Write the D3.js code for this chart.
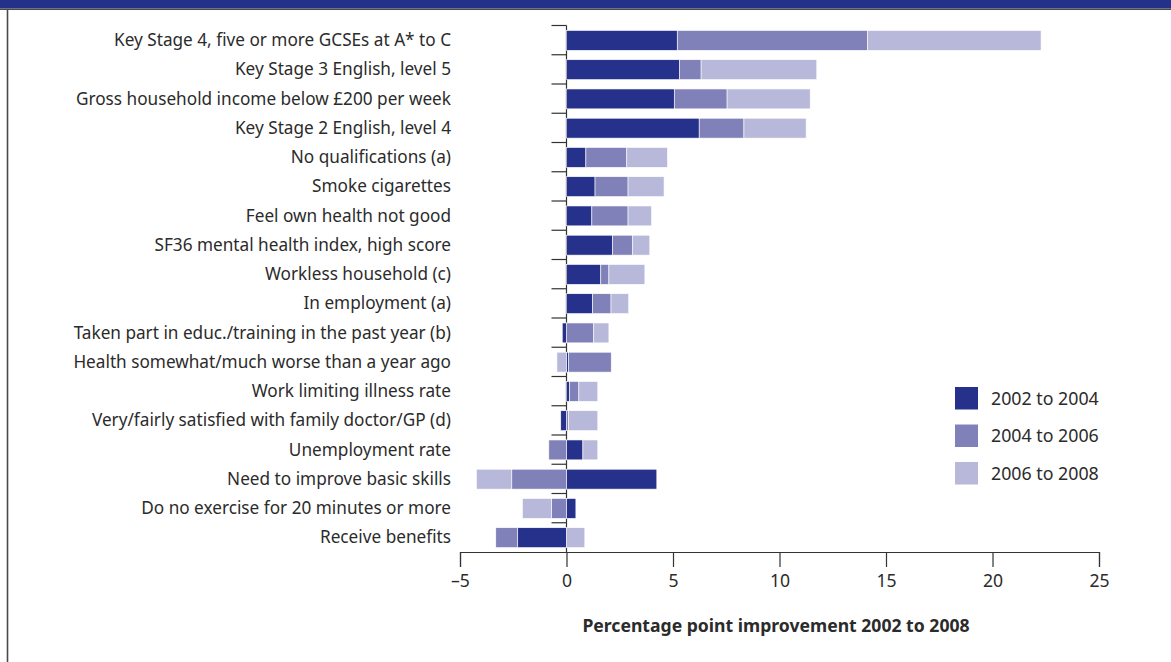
<!DOCTYPE html>
<html>
<head>
<meta charset="utf-8">
<script src="https://cdn.jsdelivr.net/npm/d3@7"></script>
<style>
  body { margin: 0; background: #fff; }
  svg { display: block; font-family: "Noto Sans", sans-serif; }
</style>
</head>
<body>
<div id="chart"></div>
<script>
var categories = [
  "Key Stage 4, five or more GCSEs at A* to C",
  "Key Stage 3 English, level 5",
  "Gross household income below £200 per week",
  "Key Stage 2 English, level 4",
  "No qualifications (a)",
  "Smoke cigarettes",
  "Feel own health not good",
  "SF36 mental health index, high score",
  "Workless household (c)",
  "In employment (a)",
  "Taken part in educ./training in the past year (b)",
  "Health somewhat/much worse than a year ago",
  "Work limiting illness rate",
  "Very/fairly satisfied with family doctor/GP (d)",
  "Unemployment rate",
  "Need to improve basic skills",
  "Do no exercise for 20 minutes or more",
  "Receive benefits"
];
var seriesNames = ["2002 to 2004", "2004 to 2006", "2006 to 2008"];
var v2002_04 = [5.2, 5.3, 5.06, 6.23, 0.91, 1.34, 1.19, 2.17, 1.61, 1.23, -0.2, 0.1, 0.15, -0.27, 0.77, 4.24, 0.44, -2.29];
var v2004_06 = [8.94, 1.02, 2.48, 2.1, 1.92, 1.55, 1.7, 0.94, 0.38, 0.86, 1.28, 2.0, 0.43, 0.09, -0.83, -2.57, -0.7, -1.03];
var v2006_08 = [8.14, 5.43, 3.9, 2.92, 1.91, 1.69, 1.1, 0.8, 1.69, 0.83, 0.71, -0.45, 0.89, 1.38, 0.7, -1.66, -1.37, 0.86];
var xTicks = [-5, 0, 5, 10, 15, 20, 25];
var colors = ["#25318a", "#8181b9", "#b8b8da"];

var width = 1171, height = 662;
var svg = d3.select("#chart").append("svg")
  .attr("width", width)
  .attr("height", height);

// header band and frame
svg.append("rect").attr("x", 0).attr("y", 0).attr("width", width).attr("height", 8.5).attr("fill", "#23318a");
svg.append("line").attr("x1", 0).attr("x2", width).attr("y1", 9.2).attr("y2", 9.2)
  .attr("stroke", "#4a4a4a").attr("stroke-width", 1.6);
svg.append("line").attr("x1", 7.5).attr("x2", 7.5).attr("y1", 9).attr("y2", height)
  .attr("stroke", "#4a4a4a").attr("stroke-width", 1.6);

var table = categories.map(function(c, i) {
  return {cat: c, s0: v2002_04[i], s1: v2004_06[i], s2: v2006_08[i]};
});

var stack = d3.stack()
  .keys(["s0", "s1", "s2"])
  .offset(d3.stackOffsetDiverging);
var layers = stack(table);

var x = d3.scaleLinear().domain([-5, 25]).range([460, 1099]);
var row = d3.scaleBand().domain(categories).range([25.5, 552]).padding(0);
var barInset = row.bandwidth() * 0.17;
var barH = row.bandwidth() * 0.68;

// zero / category axis
var zx = x(0);
svg.append("line").attr("x1", zx).attr("x2", zx).attr("y1", row.range()[0]).attr("y2", row.range()[1])
  .attr("stroke", "#333").attr("stroke-width", 1.2);
svg.selectAll(".ytick").data(categories).enter().append("line")
  .attr("class", "ytick")
  .attr("x1", zx - 15).attr("x2", zx)
  .attr("y1", function(d) { return row(d); })
  .attr("y2", function(d) { return row(d); })
  .attr("stroke", "#333").attr("stroke-width", 1.2);

svg.selectAll(".ylab").data(categories).enter().append("text")
  .attr("class", "ylab")
  .attr("x", 451)
  .attr("y", function(d) { return row(d) + row.bandwidth() / 2; })
  .attr("dy", "0.35em")
  .attr("text-anchor", "end")
  .attr("font-size", 17.2)
  .attr("fill", "#2b2b2b")
  .text(function(d) { return d; });

// bars
svg.selectAll(".layer").data(layers).enter().append("g")
  .attr("class", "layer")
  .attr("fill", function(d, i) { return colors[i]; })
  .selectAll("rect")
  .data(function(d) { return d; })
  .enter().append("rect")
  .attr("x", function(d) { return x(Math.min(d[0], d[1])); })
  .attr("width", function(d) { return Math.abs(x(d[1]) - x(d[0])); })
  .attr("y", function(d) { return row(d.data.cat) + barInset; })
  .attr("height", barH)
  .attr("stroke", "#fff")
  .attr("stroke-width", 0.6);

// x axis
var xAxis = d3.axisBottom(x)
  .tickValues(xTicks)
  .tickSize(15)
  .tickPadding(8)
  .tickFormat(function(d) { return d < 0 ? "\u2013" + Math.abs(d) : d; });
var gx = svg.append("g")
  .attr("transform", "translate(0," + 552 + ")")
  .call(xAxis);
gx.select(".domain").attr("stroke", "#333").attr("stroke-width", 1.2);
gx.selectAll(".tick line").attr("stroke", "#333").attr("stroke-width", 1.2);
gx.selectAll(".tick text")
  .attr("font-family", "Noto Sans, sans-serif")
  .attr("font-size", 17.6)
  .attr("fill", "#2b2b2b");

svg.append("text")
  .attr("x", 776)
  .attr("y", 632)
  .attr("text-anchor", "middle")
  .attr("font-size", 17.6)
  .attr("font-weight", "bold")
  .attr("fill", "#2b2b2b")
  .text("Percentage point improvement 2002 to 2008");

// legend
var legend = svg.selectAll(".legend").data(seriesNames).enter().append("g")
  .attr("class", "legend")
  .attr("transform", function(d, i) { return "translate(955," + (387 + i * 37.5) + ")"; });
legend.append("rect")
  .attr("width", 23).attr("height", 22.5)
  .attr("fill", function(d, i) { return colors[i]; });
legend.append("text")
  .attr("x", 36).attr("y", 11.5)
  .attr("dy", "0.35em")
  .attr("font-size", 17.8)
  .attr("fill", "#2b2b2b")
  .text(function(d) { return d; });
</script>
</body>
</html>
